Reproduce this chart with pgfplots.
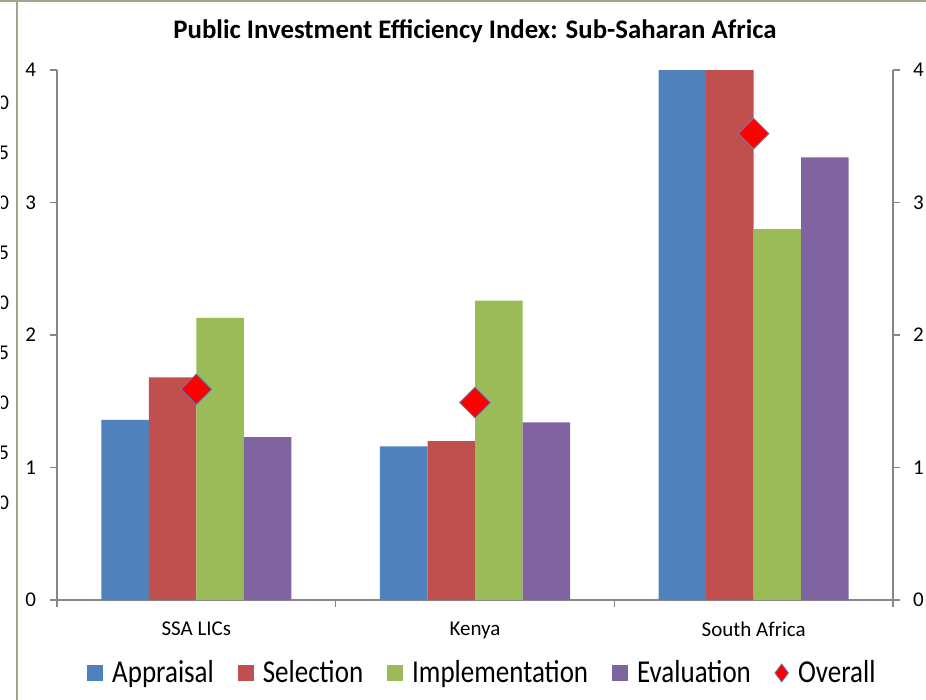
\documentclass[border=0pt]{standalone}
\usepackage{pgfplots}
\pgfplotsset{compat=1.18}
\usepackage{fontspec}
\setmainfont{Carlito}
\definecolor{cA}{HTML}{4F81BD}
\definecolor{cS}{HTML}{C0504D}
\definecolor{cI}{HTML}{9BBB59}
\definecolor{cE}{HTML}{8064A2}
\definecolor{axgray}{HTML}{868686}
\definecolor{frame}{HTML}{A8A290}
\newcommand{\lt}[1]{\scalebox{1}[1.18]{#1}}
\begin{document}
\begin{tikzpicture}
\useasboundingbox (0,0) rectangle (463bp,-350bp);
\fill[white] (0,0) rectangle (463bp,-350bp);
\foreach \v/\y in {0/103,5/153,0/203,5/253,0/303,5/353,0/403,5/453,0/503}{
  \node[anchor=west, inner sep=0pt, font=\fontsize{10.5bp}{12bp}\selectfont] at (-1bp,-\y*0.5bp) {\v};
}
\fill[white] (0,0) rectangle (0.5bp,-350bp);
\draw[frame, line width=1bp] (8.5bp,0) -- (8.5bp,-350bp);
\draw[frame, line width=1bp] (0,-0.5bp) -- (463bp,-0.5bp);
\node[font=\bfseries\fontsize{13.4bp}{15bp}\selectfont] at (237.5bp,-15.5bp) {Public Investment Efficiency Index: Sub-Saharan Africa};
\begin{axis}[
  at={(28.5bp,-300bp)}, anchor=south west,
  scale only axis, width=418bp, height=265bp,
  xmin=-0.5, xmax=2.5, ymin=0, ymax=4,
  axis x line*=bottom, axis y line*=left,
  axis line style={-, draw=axgray, line width=0.6bp},
  tick align=outside, major tick length=3.5bp,
  tick style={axgray, line width=0.6bp},
  ytick={0,1,2,3,4},
  xtick={-0.5,0.5,1.5,2.5}, xticklabels={},
  extra x ticks={0,1,2},
  extra x tick labels={SSA LICs, Kenya, South Africa},
  extra x tick style={major tick length=0pt, tick label style={yshift=-7.5bp}},
  /pgf/number format/assume math mode=true,
  tick label style={font=\fontsize{10.5bp}{12bp}\selectfont, text=black},
  yticklabel style={xshift=-3.5bp},
  legend style={at={(0.51,-0.1377)}, anchor=center, draw=none, fill=none,
    font=\fontsize{13.5bp}{16bp}\selectfont, legend columns=5,
    /tikz/every even column/.append style={column sep=10bp}},
  legend cell align=left,
]
\addplot[ybar, bar width=23.75bp, bar shift=-35.625bp, fill=cA, draw=none,
  legend image code/.code={\fill[cA] (0bp,-4bp) rectangle (8bp,4bp); \path (10.5bp,0);}]
  coordinates {(0,1.36) (1,1.16) (2,4.0)};
\addlegendentry{\lt{Appraisal}}
\addplot[ybar, bar width=23.75bp, bar shift=-11.875bp, fill=cS, draw=none,
  legend image code/.code={\fill[cS] (0bp,-4bp) rectangle (8bp,4bp); \path (10.5bp,0);}]
  coordinates {(0,1.68) (1,1.20) (2,4.0)};
\addlegendentry{\lt{Selection}}
\addplot[ybar, bar width=23.75bp, bar shift=11.875bp, fill=cI, draw=none,
  legend image code/.code={\fill[cI] (0bp,-4bp) rectangle (8bp,4bp); \path (10.5bp,0);}]
  coordinates {(0,2.13) (1,2.26) (2,2.80)};
\addlegendentry{\lt{Implementation}}
\addplot[ybar, bar width=23.75bp, bar shift=35.625bp, fill=cE, draw=none,
  legend image code/.code={\fill[cE] (0bp,-4bp) rectangle (8bp,4bp); \path (10.5bp,0);}]
  coordinates {(0,1.23) (1,1.34) (2,3.34)};
\addlegendentry{\lt{Evaluation}}
\addplot[only marks, mark=square*, mark size=5.4bp,
  mark options={rotate=45, fill=red, draw=cA!80!gray, line width=0.4bp},
  legend image code/.code={\draw[mark=diamond*, mark size=4.5bp, mark options={fill=red, draw=cA!80!gray, line width=0.4bp}] plot coordinates {(4bp,0bp)}; \path (10bp,0);}]
  coordinates {(0,1.59) (1,1.49) (2,3.52)};
\addlegendentry{\lt{Overall}}
\end{axis}
\begin{axis}[
  at={(28.5bp,-300bp)}, anchor=south west,
  scale only axis, width=418bp, height=265bp,
  xmin=-0.5, xmax=2.5, ymin=0, ymax=4,
  axis x line=none, axis y line*=right,
  axis line style={-, draw=axgray, line width=0.6bp},
  tick align=outside, major tick length=3.5bp,
  tick style={axgray, line width=0.6bp},
  ytick={0,1,2,3,4},
  /pgf/number format/assume math mode=true,
  tick label style={font=\fontsize{10.5bp}{12bp}\selectfont, text=black},
  yticklabel style={xshift=3bp},
]
\addplot[draw=none] coordinates {(0,0)};
\end{axis}
\end{tikzpicture}
\end{document}
